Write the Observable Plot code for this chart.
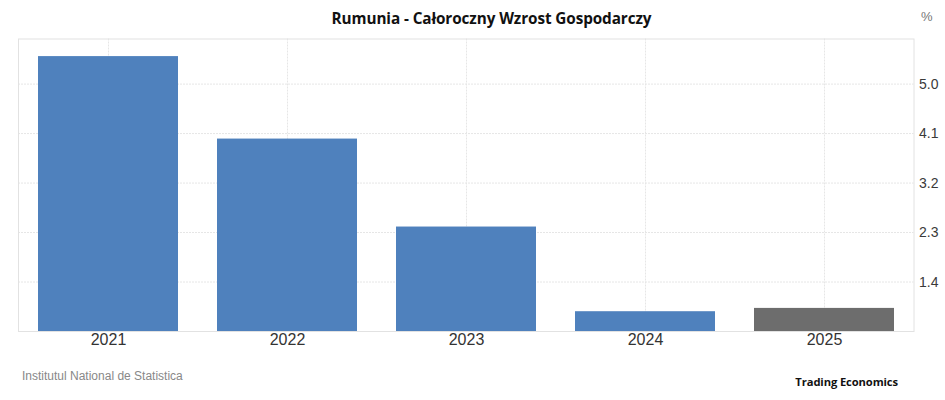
<!DOCTYPE html>
<html>
<head>
<meta charset="utf-8">
<script src="https://cdn.jsdelivr.net/npm/d3@7"></script>
<script src="https://cdn.jsdelivr.net/npm/@observablehq/plot@0.6"></script>
<style>
  html, body { margin: 0; padding: 0; background: #fff; }
  #wrap { position: relative; width: 945px; height: 400px; overflow: hidden; }
  #title { position: absolute; left: 0; width: 983px; top: 8px; text-align: center;
    font-family: "Open Sans", sans-serif; font-weight: bold; font-size: 15.3px; color: #111; letter-spacing: -0.1px; }
  #unit { position: absolute; left: 921px; top: 9px; font-family: "Liberation Sans", sans-serif; font-size: 13px; color: #777; }
  #source { position: absolute; left: 22px; top: 369px; font-family: "Liberation Sans", sans-serif; font-size: 12px; color: #888; }
  #brand { position: absolute; right: 47px; top: 374px; font-family: "Open Sans", sans-serif; font-weight: bold; font-size: 11.2px; color: #111; letter-spacing: -0.1px; }
  #chart { position: absolute; left: 0; top: 0; }
</style>
</head>
<body>
<div id="wrap">
  <div id="chart"></div>
  <div id="title">Rumunia - Całoroczny Wzrost Gospodarczy</div>
  <div id="unit">%</div>
  <div id="source">Institutul National de Statistica</div>
  <div id="brand">Trading Economics</div>
</div>
<script>
const years = ["2021", "2022", "2023", "2024", "2025"];
const growth = [5.5, 4.0, 2.4, 0.86, 0.92];
const kinds = ["actual", "actual", "actual", "actual", "forecast"];
const yTicks = [1.4, 2.3, 3.2, 4.1, 5.0];
const yDomain = [0.5, 5.82];

const data = years.map((y, i) => ({year: y, value: growth[i], kind: kinds[i]}));

const chart = Plot.plot({
  width: 945,
  height: 400,
  marginTop: 38.5,
  marginBottom: 69,
  marginLeft: 18,
  marginRight: 31.5,
  style: {fontFamily: "'Liberation Sans', Arial, sans-serif", background: "transparent"},
  x: {domain: years, paddingInner: 0.22, paddingOuter: 0.11, label: null},
  y: {domain: yDomain, label: null},
  color: {domain: ["actual", "forecast"], range: ["#4f81bd", "#6d6d6d"]},
  marks: [
    Plot.gridY(yTicks, {stroke: "#e6e6e6", strokeOpacity: 1, strokeDasharray: "2,1"}),
    Plot.gridX({stroke: "#e6e6e6", strokeOpacity: 1, strokeDasharray: "2,1"}),
    Plot.frame({stroke: "#e2e2e2"}),
    Plot.barY(data, {x: "year", y: "value", fill: "kind", clip: true}),
    Plot.axisY(yTicks, {anchor: "right", tickSize: 0, tickPadding: 5, tickFormat: d3.format(".1f"), fontSize: 14, fill: "#3a3a3a"}),
    Plot.axisX({anchor: "bottom", tickSize: 0, tickPadding: 2, fontSize: 16, fill: "#333"})
  ]
});
document.getElementById("chart").appendChild(chart);
</script>
</body>
</html>
